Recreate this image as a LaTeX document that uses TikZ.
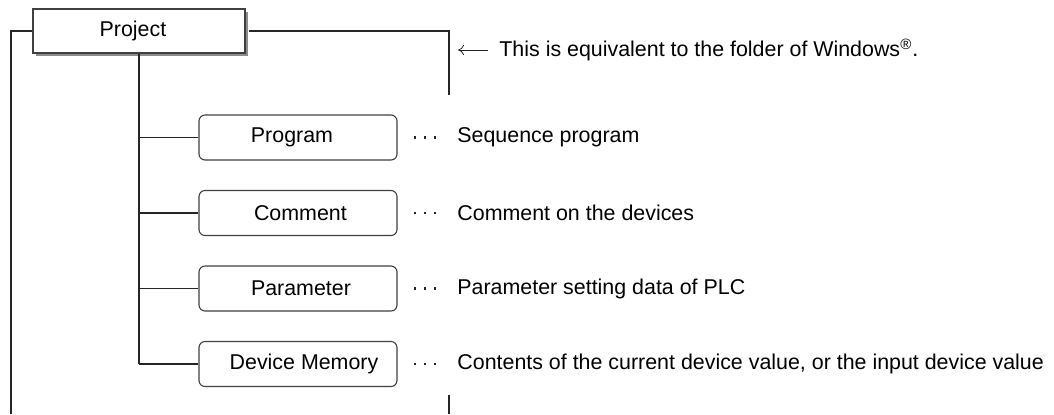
\documentclass[tikz,border=0pt]{standalone}
\usepackage{fontspec}
\setmainfont{Liberation Sans}
\usetikzlibrary{shadows,arrows.meta}
\newcommand\txsh[2]{\hspace*{#1}#2\hspace*{-#1}}
\newcommand\threedots{\rule{1.3pt}{1.3pt}\hspace{3.7pt}\rule{1.3pt}{1.3pt}\hspace{3.7pt}\rule{1.3pt}{1.3pt}}
\begin{document}
\begin{tikzpicture}[x=0.5pt,y=-0.5pt,
  font=\fontsize{10.7}{12}\selectfont,
  ln/.style={draw=black!85,line width=0.55pt},
  projbox/.style={draw=black!75,line width=0.6pt,fill=white,minimum width=106pt,minimum height=22pt,inner sep=0pt,
    drop shadow={shadow xshift=1.6pt,shadow yshift=-1.6pt,fill=black!45,opacity=1}},
  itembox/.style={draw=black!75,line width=0.55pt,fill=white,rounded corners=3pt,minimum width=99pt,minimum height=22.5pt,inner sep=0pt},
  desc/.style={anchor=west,inner sep=0pt},
  dotsn/.style={inner sep=0pt,text=black!85}]
\useasboundingbox (0,0) rectangle (1054,414);
\node[projbox] (proj) at (139,31) {\txsh{-3pt}{Project}};
\node[itembox] (prog) at (298,137.5) {\txsh{-3pt}{Program}};
\node[itembox] (comm) at (298,213) {\txsh{1.2pt}{Comment}};
\node[itembox] (para) at (298,288.5) {\txsh{1.5pt}{Parameter}};
\node[itembox] (devm) at (298,364) {\txsh{3pt}{Device Memory}};
% left and right brackets
\coordinate (lt) at (11,31);
\coordinate (lb) at (11,414);
\coordinate (rt) at (449,31);
\coordinate (rb) at (449,95);
\coordinate (st) at (449,395);
\coordinate (sb) at (449,414);
\draw[ln] (proj.west) -- (lt) -- (lb);
\draw[ln] ([xshift=1.6pt]proj.east) -- (rt) -- (rb);
\draw[ln] (st) -- (sb);
% tree
\coordinate (tend) at (139,364);
\draw[ln] (proj.south) -- (tend);
\foreach \n in {prog,comm,para,devm}{
  \draw[ln] (\n.west -| proj.south) -- (\n.west);
}
% descriptions
\foreach \n/\t in {prog/Sequence program,comm/Comment on the devices,para/Parameter setting data of PLC,devm/{Contents of the current device value, or the input device value}}{
  \node[dotsn] (d\n) at (425,0 |- \n.center) {\threedots};
  \node[desc] (t\n) at (457,0 |- \n.center) {\t};
}
% note
\node[desc] (note) at (499,50) {This is equivalent to the folder of Windows\textsuperscript{\textregistered}.};
\coordinate (ntip) at (458,50);
\draw[black!85,line width=0.4pt,-{To[length=3pt,width=5pt]}] ([xshift=-5.5pt]note.west) -- (ntip);
\end{tikzpicture}
\end{document}
